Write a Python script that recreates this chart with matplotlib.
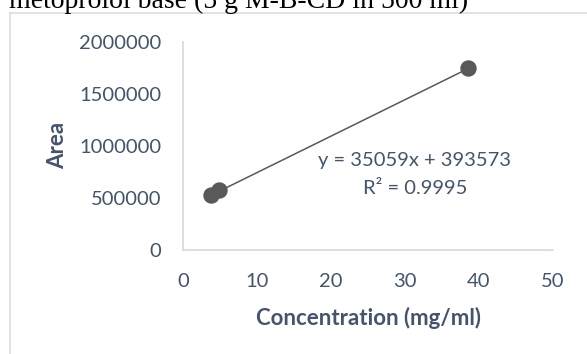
import matplotlib.pyplot as plt
from matplotlib.lines import Line2D

# Calibration data
conc = [3.75, 4.9, 38.5]           # mg/ml
area = [527000, 578000, 1750000]   # peak area
slope = 35059
intercept = 393573
r_squared = 0.9995

x_ticks = [0, 10, 20, 30, 40, 50]
y_ticks = [0, 500000, 1000000, 1500000, 2000000]

text_col = "#44546a"
axis_col = "#d6dce4"
mark_col = "#595959"

W, H = 587, 354

plt.rcParams["font.family"] = ["Lato", "DejaVu Sans"]

fig = plt.figure(figsize=(W / 100, H / 100), dpi=100)
ax = fig.add_axes([183 / W, 1 - 250 / H, 370 / W, 208 / H])

# Trendline over the range of the data
x_fit = [min(conc), max(conc)]
y_fit = [slope * v + intercept for v in x_fit]
ax.plot(x_fit, y_fit, color=mark_col, linewidth=1.1, zorder=2)
ax.plot(conc, area, "o", color=mark_col, markersize=10.8, zorder=3)

ax.set_xlim(0, 50)
ax.set_ylim(0, 2000000)
ax.set_xticks(x_ticks)
ax.set_yticks(y_ticks)
ax.set_xticklabels([str(v) for v in x_ticks])
ax.set_yticklabels([str(v) for v in y_ticks])
ax.tick_params(length=0, labelsize=14.5, labelcolor=text_col)
ax.tick_params(axis="y", pad=15.5)
ax.tick_params(axis="x", pad=16.5)

for side in ["top", "right"]:
    ax.spines[side].set_visible(False)
for side in ["left", "bottom"]:
    ax.spines[side].set_color(axis_col)
    ax.spines[side].set_linewidth(1.3)

ax.set_xlabel("Concentration (mg/ml)", fontsize=16, fontweight="bold", color=text_col)
ax.set_ylabel("Area", fontsize=16, fontweight="bold", color=text_col)
ax.xaxis.label.set_va("center")
ax.yaxis.label.set_va("center")
ax.xaxis.set_label_coords(0.5, (250 - 318) / 208)
ax.yaxis.set_label_coords((57.5 - 183) / 370, 0.502)

fig.text(415 / W, 1 - 166 / H, "y = 35059x + 393573",
         ha="center", va="baseline", fontsize=14.5, color=text_col)
fig.text(415 / W, 1 - 194 / H, "R\u00b2 = %.4f" % r_squared,
         ha="center", va="baseline", fontsize=14.5, color=text_col)

# Chart frame, partly cut off by the crop
frame_col = "#d9dde3"
fig.add_artist(Line2D([9.5 / W, 9.5 / W], [0, 1 - 12.5 / H],
                      transform=fig.transFigure, color=frame_col, linewidth=1.2))
fig.add_artist(Line2D([9.5 / W, 1], [1 - 12.5 / H, 1 - 12.5 / H],
                      transform=fig.transFigure, color=frame_col, linewidth=1.2))

# Caption above the chart, clipped at the top edge
fig.text(9 / W, 1 - 7.5 / H, "metoprolol base (5 g M-B-CD in 500 ml)",
         family="Liberation Serif", fontsize=20, color="black", va="baseline")

fig.savefig("out.png", dpi=100)
